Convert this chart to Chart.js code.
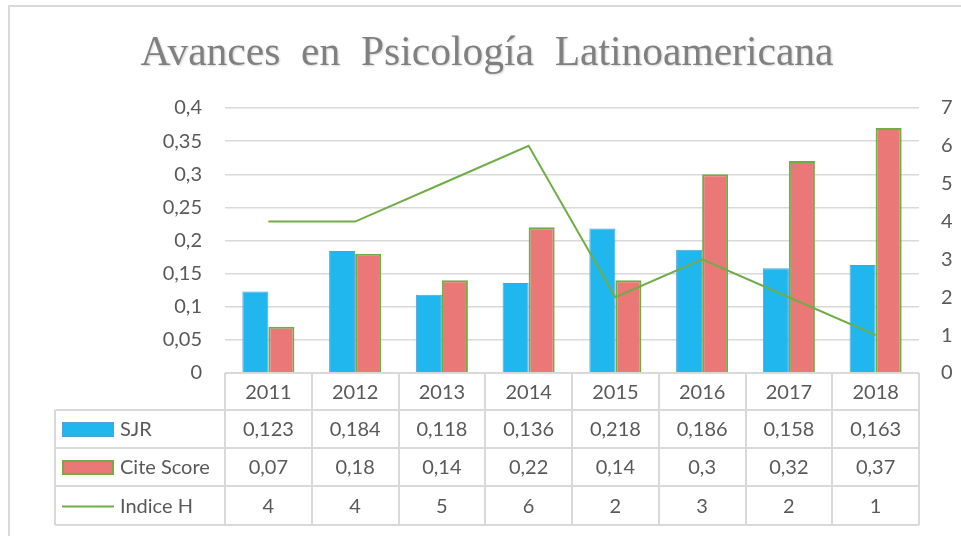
<!DOCTYPE html>
<html>
<head>
<meta charset="utf-8">
<script src="https://cdn.jsdelivr.net/npm/chart.js@4.4.0/dist/chart.umd.min.js"></script>
<style>
    html, body { margin: 0; padding: 0; background: #fff; }
    #wrap { width: 961px; height: 536px; position: relative; }
</style>
</head>
<body>
<div id="wrap"><canvas id="chart"></canvas></div>
<script>
const chartTitle = 'Avances  en  Psicología  Latinoamericana';
const years = ['2011', '2012', '2013', '2014', '2015', '2016', '2017', '2018'];
const sjr = [0.123, 0.184, 0.118, 0.136, 0.218, 0.186, 0.158, 0.163];
const citeScore = [0.07, 0.18, 0.14, 0.22, 0.14, 0.3, 0.32, 0.37];
const indiceH = [4, 4, 5, 6, 2, 3, 2, 1];
const seriesNames = ['SJR', 'Cite Score', 'Indice H'];

const TEXT = '#595959';
const GRID = '#d9d9d9';
const BLUE = '#20b6ee';
const RED = '#e97877';
const GREEN = '#70ad47';
const FONT = 'Lato, "Open Sans", sans-serif';

const fmt = v => String(parseFloat(Number(v).toFixed(3))).replace('.', ',');

// tabla de datos debajo del grafico (estilo Excel)
const dataTable = {
    id: 'dataTable',
    beforeDraw(chart) {
        const ctx = chart.ctx;
        ctx.save();
        ctx.strokeStyle = GRID;
        ctx.lineWidth = 2;
        ctx.strokeRect(9, 6, 1000, 600);
        ctx.restore();
    },
    afterDraw(chart) {
        const ctx = chart.ctx;
        const area = chart.chartArea;
        const xs = chart.scales.x;
        const colW = (area.right - area.left) / years.length;
        const legendLeft = 55;
        const rows = [area.bottom, area.bottom + 37, area.bottom + 75, area.bottom + 113, area.bottom + 152];

        ctx.save();
        // titulo
        ctx.font = '41.5px "Liberation Serif", "Times New Roman", serif';
        ctx.fillStyle = '#808080';
        ctx.textAlign = 'center';
        ctx.textBaseline = 'alphabetic';
        ctx.shadowColor = 'rgba(0,0,0,0.18)';
        ctx.shadowBlur = 2;
        ctx.shadowOffsetX = 1;
        ctx.shadowOffsetY = 1;
        ctx.fillText(chartTitle, 487, 65);
        ctx.restore();

        ctx.save();
        ctx.strokeStyle = GRID;
        ctx.lineWidth = 2;
        ctx.beginPath();
        ctx.moveTo(area.left, rows[0]);
        ctx.lineTo(area.right, rows[0]);
        for (let r = 1; r < rows.length; r++) {
            ctx.moveTo(legendLeft, rows[r]);
            ctx.lineTo(area.right, rows[r]);
        }
        ctx.moveTo(legendLeft, rows[1]);
        ctx.lineTo(legendLeft, rows[4]);
        for (let i = 0; i <= years.length; i++) {
            const x = Math.round(area.left + i * colW);
            ctx.moveTo(x, rows[0]);
            ctx.lineTo(x, rows[4]);
        }
        ctx.stroke();

        ctx.font = '20px ' + FONT;
        ctx.fillStyle = TEXT;
        ctx.textAlign = 'center';
        ctx.textBaseline = 'middle';
        const values = [sjr, citeScore, indiceH];
        years.forEach((y, i) => {
            const cx = xs.getPixelForValue(i);
            ctx.fillText(y, cx, (rows[0] + rows[1]) / 2 + 1);
            values.forEach((arr, r) => {
                ctx.fillText(fmt(arr[i]), cx, (rows[r + 1] + rows[r + 2]) / 2 + 1);
            });
        });

        // leyenda
        ctx.textAlign = 'left';
        seriesNames.forEach((name, r) => {
            const cy = (rows[r + 1] + rows[r + 2]) / 2;
            if (r === 0) {
                ctx.fillStyle = BLUE;
                ctx.fillRect(62, cy - 7, 52, 15);
                ctx.strokeStyle = '#4f9fd8';
                ctx.lineWidth = 1;
                ctx.strokeRect(62.5, cy - 6.5, 51, 14);
            } else if (r === 1) {
                ctx.fillStyle = RED;
                ctx.fillRect(62, cy - 7, 52, 15);
                ctx.strokeStyle = GREEN;
                ctx.lineWidth = 2;
                ctx.strokeRect(63, cy - 6, 50, 13);
            } else {
                ctx.strokeStyle = GREEN;
                ctx.lineWidth = 2;
                ctx.beginPath();
                ctx.moveTo(62, cy + 1);
                ctx.lineTo(114, cy + 1);
                ctx.stroke();
            }
            ctx.fillStyle = TEXT;
            ctx.fillText(name, 120, cy + 1);
        });
        ctx.restore();
    }
};

new Chart(document.getElementById('chart'), {
    type: 'bar',
    data: {
        labels: years,
        datasets: [
            {
                type: 'line',
                label: seriesNames[2],
                data: indiceH,
                yAxisID: 'y2',
                borderColor: GREEN,
                borderWidth: 2,
                pointRadius: 0,
                tension: 0,
                fill: false,
                order: 0
            },
            {
                label: seriesNames[0],
                data: sjr,
                yAxisID: 'y',
                backgroundColor: BLUE,
                borderColor: '#4f9fd8',
                borderWidth: 1,
                barPercentage: 1,
                categoryPercentage: 0.6,
                order: 1
            },
            {
                label: seriesNames[1],
                data: citeScore,
                yAxisID: 'y',
                backgroundColor: RED,
                borderColor: GREEN,
                borderWidth: 2,
                barPercentage: 1,
                categoryPercentage: 0.6,
                order: 1
            }
        ]
    },
    options: {
        responsive: true,
        maintainAspectRatio: false,
        animation: false,
        layout: { padding: { left: 0, right: 0, top: 108, bottom: 163 } },
        plugins: {
            legend: { display: false },
            title: { display: false },
            tooltip: { enabled: false }
        },
        scales: {
            x: { display: false, offset: true },
            y: {
                position: 'left',
                min: 0,
                max: 0.4,
                ticks: {
                    stepSize: 0.05,
                    padding: 23,
                    color: TEXT,
                    font: { family: FONT, size: 20 },
                    callback: v => fmt(parseFloat(v.toFixed(2)))
                },
                grid: { color: GRID, lineWidth: 1.5, drawTicks: false },
                border: { display: false },
                afterFit(s) { s.width = 225; }
            },
            y2: {
                position: 'right',
                min: 0,
                max: 7,
                ticks: {
                    stepSize: 1,
                    padding: 22,
                    color: TEXT,
                    font: { family: FONT, size: 20 }
                },
                grid: { drawOnChartArea: false, drawTicks: false },
                border: { display: false },
                afterFit(s) { s.width = 42; }
            }
        }
    },
    plugins: [dataTable]
});
</script>
</body>
</html>
